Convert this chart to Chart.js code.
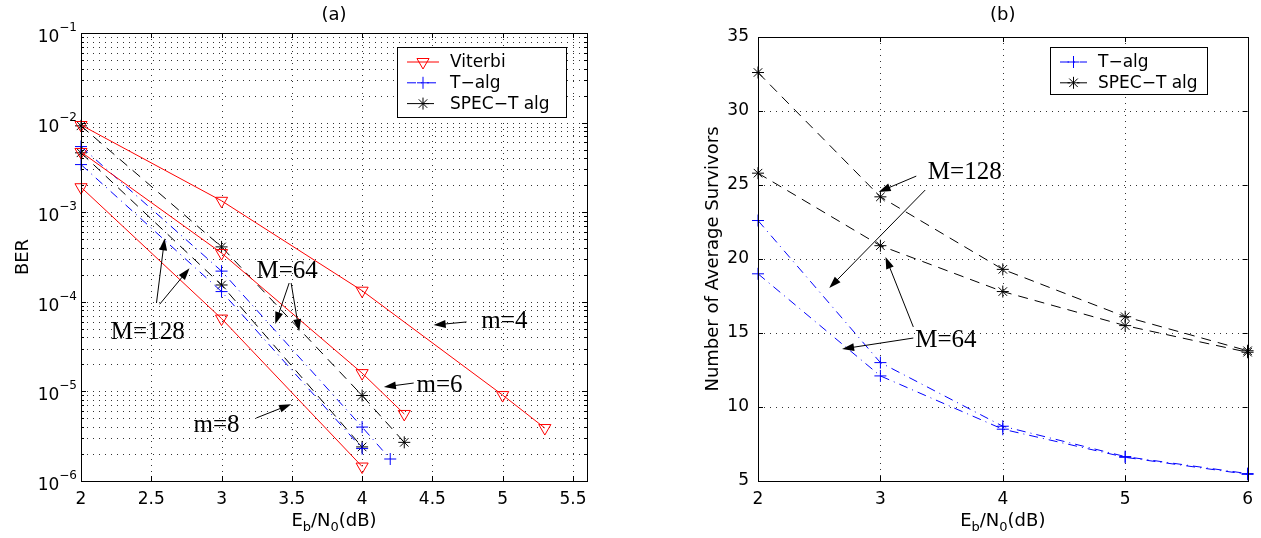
<!DOCTYPE html>
<html>
<head>
<meta charset="UTF-8">
<title>BER and average survivors</title>
<script src="https://cdn.jsdelivr.net/npm/chart.js"></script>
<style>
  body { margin: 0; background: #fff; }
  #wrapA { position: absolute; left: 0; top: 0; width: 630px; height: 538px; }
  #wrapB { position: absolute; left: 640px; top: 0; width: 621px; height: 538px; }
</style>
</head>
<body>
<div id="wrapA"><canvas id="chartA"></canvas></div>
<div id="wrapB"><canvas id="chartB"></canvas></div>
<script>
// ---- (a) BER vs Eb/N0 ----
const xTicksA = [2, 2.5, 3, 3.5, 4, 4.5, 5, 5.5];
const yExpA = [-1, -2, -3, -4, -5, -6];

const vit4X = [2, 3, 4, 5, 5.3];
const vit4Y = [9.4e-3, 1.34e-3, 1.33e-4, 9.1e-6, 3.9e-6];
const vit6X = [2, 3, 4, 4.3];
const vit6Y = [4.7e-3, 3.5e-4, 1.6e-5, 5.6e-6];
const vit8X = [2, 3, 4];
const vit8Y = [1.9e-3, 6.5e-5, 1.45e-6];

const talg64X = [2, 3, 4, 4.2];
const talg64Y = [5.4e-3, 2.2e-4, 4.0e-6, 1.76e-6];
const talg128X = [2, 3, 4];
const talg128Y = [3.4e-3, 1.3e-4, 2.3e-6];

const spec64X = [2, 3, 4, 4.3];
const spec64Y = [9.2e-3, 4.1e-4, 9.0e-6, 2.7e-6];
const spec128X = [2, 3, 4];
const spec128Y = [4.6e-3, 1.54e-4, 2.4e-6];

// ---- (b) average survivors ----
const ebnoB = [2, 3, 4, 5, 6];
const yTicksB = [5, 10, 15, 20, 25, 30, 35];
const survSpec128 = [32.6, 24.2, 19.3, 16.1, 13.8];
const survSpec64 = [25.8, 20.9, 17.8, 15.5, 13.7];
const survT128 = [22.6, 13.0, 8.7, 6.65, 5.5];
const survT64 = [19.0, 12.1, 8.5, 6.6, 5.45];

const SANS = '"DejaVu Sans", "Liberation Sans", sans-serif';
const SERIF = '"Liberation Serif", "Times New Roman", serif';
const RED = '#ff0000', BLUE = '#0000ff', BLACK = '#000000';
const DASH_DOT = [9, 5, 1, 5], DASHED = [10, 7];

Chart.defaults.font.family = SANS;
Chart.defaults.color = '#000';

function pts(xs, ys) { return xs.map((x, i) => ({ x: x, y: ys[i] })); }

function series(data, kind) {
  const s = {
    data: data, showLine: true, clip: false, borderWidth: 1, pointBorderWidth: 1,
    pointBackgroundColor: 'rgba(0,0,0,0)'
  };
  if (kind === 'vit') Object.assign(s, { borderColor: RED, pointBorderColor: RED, pointStyle: 'triangle', pointRotation: 180, pointRadius: 7 });
  if (kind === 't') Object.assign(s, { borderColor: BLUE, pointBorderColor: BLUE, pointStyle: 'cross', pointRadius: 6, borderDash: DASH_DOT });
  if (kind === 'spec') Object.assign(s, { borderColor: BLACK, pointBorderColor: BLACK, pointStyle: 'star', pointRadius: 6, borderDash: DASHED });
  return s;
}

function line(ctx, x1, y1, x2, y2) {
  ctx.beginPath(); ctx.moveTo(x1, y1); ctx.lineTo(x2, y2); ctx.stroke();
}

function arrow(ctx, x1, y1, x2, y2) {
  const a = Math.atan2(y2 - y1, x2 - x1), L = 12, W = 4;
  const c = Math.cos(a), s = Math.sin(a);
  line(ctx, x1, y1, x2 - L * c * 0.7, y2 - L * s * 0.7);
  ctx.beginPath();
  ctx.moveTo(x2, y2);
  ctx.lineTo(x2 - L * c + W * s, y2 - L * s - W * c);
  ctx.lineTo(x2 - L * c - W * s, y2 - L * s + W * c);
  ctx.closePath(); ctx.fill();
}

function drawEbN0(ctx, cx, y) {
  const big = '18px ' + SANS, small = '13px ' + SANS;
  const parts = [['E', big, 0], ['b', small, 5], ['/N', big, 0], ['0', small, 5], ['(dB)', big, 0]];
  let w = 0;
  parts.forEach(p => { ctx.font = p[1]; w += ctx.measureText(p[0]).width; });
  let x = cx - w / 2;
  ctx.textAlign = 'left'; ctx.textBaseline = 'alphabetic';
  parts.forEach(p => { ctx.font = p[1]; ctx.fillText(p[0], x, y + p[2]); x += ctx.measureText(p[0]).width; });
}

// axes box, dotted grid, inward ticks, titles, legend and notes, MATLAB style
function makeFrame(cfg) {
  return {
    id: 'frame',
    beforeDatasetsDraw(chart) {
      const { ctx, chartArea: a, scales } = chart;
      ctx.save();
      ctx.strokeStyle = '#333'; ctx.lineWidth = 1; ctx.setLineDash([1, 5]);
      cfg.gridX.forEach(v => { const x = Math.round(scales.x.getPixelForValue(v)) + 0.5; line(ctx, x, a.top, x, a.bottom); });
      cfg.gridY.forEach(v => { const y = Math.round(scales.y.getPixelForValue(v)) + 0.5; line(ctx, a.left, y, a.right, y); });
      ctx.restore();
    },
    afterDraw(chart) {
      const { ctx, chartArea: a, scales } = chart;
      const sx = scales.x, sy = scales.y;
      ctx.save();
      ctx.setLineDash([]); ctx.strokeStyle = '#000'; ctx.fillStyle = '#000'; ctx.lineWidth = 1;
      cfg.gridX.forEach(v => {
        const x = Math.round(sx.getPixelForValue(v)) + 0.5;
        line(ctx, x, a.bottom, x, a.bottom - 5); line(ctx, x, a.top, x, a.top + 5);
      });
      cfg.tickY.forEach(t => {
        const y = Math.round(sy.getPixelForValue(t.v)) + 0.5;
        line(ctx, a.left, y, a.left + t.len, y); line(ctx, a.right, y, a.right - t.len, y);
      });
      ctx.strokeRect(Math.round(a.left) + 0.5, Math.round(a.top) + 0.5, Math.round(a.right - a.left), Math.round(a.bottom - a.top));

      // log labels 10^n
      if (cfg.expLabels) {
        cfg.expLabels.forEach(e => {
          const y = sy.getPixelForValue(Math.pow(10, e));
          const ex = '\u2212' + Math.abs(e);
          ctx.font = '12px ' + SANS; const w2 = ctx.measureText(ex).width;
          ctx.font = '17px ' + SANS; const w1 = ctx.measureText('10').width;
          const right = a.left - 4;
          ctx.textAlign = 'left'; ctx.textBaseline = 'alphabetic';
          ctx.fillText('10', right - w2 - w1, y + 9);
          ctx.font = '12px ' + SANS;
          ctx.fillText(ex, right - w2, y - 2);
        });
      }

      const cx = (a.left + a.right) / 2, cy = (a.top + a.bottom) / 2;
      ctx.font = '18px ' + SANS; ctx.textAlign = 'center'; ctx.textBaseline = 'middle';
      ctx.fillText(cfg.title, cx, 15);
      drawEbN0(ctx, cx, 526);
      ctx.save();
      ctx.translate(cfg.yTitleX, cy); ctx.rotate(-Math.PI / 2);
      ctx.font = '18px ' + SANS; ctx.textAlign = 'center'; ctx.textBaseline = 'middle';
      ctx.fillText(cfg.yTitle, 0, 0);
      ctx.restore();

      // legend
      const L = cfg.legend;
      ctx.fillStyle = '#fff'; ctx.fillRect(L.x, L.y, L.w, L.h);
      ctx.strokeStyle = '#000'; ctx.strokeRect(L.x + 0.5, L.y + 0.5, L.w, L.h);
      L.items.forEach((it, i) => {
        const y = L.y + 15 + i * 20.8;
        ctx.strokeStyle = it.color; ctx.setLineDash(it.dash);
        line(ctx, L.x + 10, y, L.x + L.sample, y);
        ctx.setLineDash([]);
        ctx.fillStyle = 'rgba(0,0,0,0)';
        Chart.helpers.drawPoint(ctx, { pointStyle: it.point, rotation: it.rot || 0, radius: it.r, borderWidth: 1 }, L.x + 10 + (L.sample - 10) / 2, y);
        ctx.fillStyle = '#000'; ctx.font = '17px ' + SANS; ctx.textAlign = 'left'; ctx.textBaseline = 'middle';
        ctx.fillText(it.label, L.x + L.sample + 11, y + 1);
      });

      // text notes with arrows (data coordinates)
      ctx.strokeStyle = '#000'; ctx.fillStyle = '#000'; ctx.setLineDash([]);
      cfg.notes.forEach(n => {
        ctx.font = '25px ' + SERIF; ctx.textAlign = 'center'; ctx.textBaseline = 'middle';
        ctx.fillText(n.text, sx.getPixelForValue(n.at[0]), sy.getPixelForValue(n.at[1]));
        n.arrows.forEach(ar => arrow(ctx,
          sx.getPixelForValue(ar[0]), sy.getPixelForValue(ar[1]),
          sx.getPixelForValue(ar[2]), sy.getPixelForValue(ar[3])));
      });
      ctx.restore();
    }
  };
}

// ---------- chart (a) ----------
const gridYA = [], tickYA = [];
for (let e = -6; e <= -2; e++) {
  for (let k = 1; k <= 9; k++) {
    const v = k * Math.pow(10, e);
    gridYA.push(v); tickYA.push({ v: v, len: k === 1 ? 5 : 3 });
  }
}
tickYA.push({ v: 1e-1, len: 5 });

new Chart(document.getElementById('chartA'), {
  type: 'scatter',
  data: {
    datasets: [
      series(pts(vit4X, vit4Y), 'vit'),
      series(pts(vit6X, vit6Y), 'vit'),
      series(pts(vit8X, vit8Y), 'vit'),
      series(pts(talg64X, talg64Y), 't'),
      series(pts(talg128X, talg128Y), 't'),
      series(pts(spec64X, spec64Y), 'spec'),
      series(pts(spec128X, spec128Y), 'spec')
    ]
  },
  options: {
    responsive: true, maintainAspectRatio: false, animation: false,
    layout: { padding: { left: 0, right: 43, top: 33, bottom: 0 } },
    plugins: { legend: { display: false }, tooltip: { enabled: false } },
    scales: {
      x: {
        type: 'linear', min: 2, max: 5.6,
        afterBuildTicks: s => { s.ticks = xTicksA.map(v => ({ value: v })); },
        afterFit: s => { s.height = 57; },
        grid: { display: false, drawTicks: false }, border: { display: false },
        ticks: { padding: 8, autoSkip: false, maxRotation: 0, font: { size: 17 }, callback: v => String(v) }
      },
      y: {
        type: 'logarithmic', min: 1e-6, max: 1e-1,
        afterFit: s => { s.width = 81; },
        grid: { display: false, drawTicks: false }, border: { display: false },
        ticks: { display: false }
      }
    }
  },
  plugins: [makeFrame({
    title: '(a)', yTitle: 'BER', yTitleX: 23,
    gridX: xTicksA, gridY: gridYA, tickY: tickYA, expLabels: yExpA,
    legend: {
      x: 397, y: 47, w: 169, h: 70, sample: 42,
      items: [
        { label: 'Viterbi', color: RED, dash: [], point: 'triangle', rot: 180, r: 7 },
        { label: 'T\u2212alg', color: BLUE, dash: DASH_DOT, point: 'cross', r: 6 },
        { label: 'SPEC\u2212T alg', color: BLACK, dash: DASHED, point: 'star', r: 6 }
      ]
    },
    notes: [
      { text: 'M=128', at: [2.475, 4.6e-5], arrows: [[2.537, 9.7e-5, 2.595, 5.1e-4], [2.56, 9.4e-5, 2.772, 2.37e-4]] },
      { text: 'M=64', at: [3.467, 2.2e-4], arrows: [[3.481, 1.62e-4, 3.382, 5.65e-5], [3.495, 1.62e-4, 3.552, 4.7e-5]] },
      { text: 'm=4', at: [5.012, 6.1e-5], arrows: [[4.743, 5.96e-5, 4.509, 5.5e-5]] },
      { text: 'm=6', at: [4.551, 1.18e-5], arrows: [[4.367, 1.24e-5, 4.155, 1.12e-5]] },
      { text: 'm=8', at: [2.964, 4.2e-6], arrows: [[3.247, 5.05e-6, 3.495, 7.2e-6]] }
    ]
  })]
});

// ---------- chart (b) ----------
new Chart(document.getElementById('chartB'), {
  type: 'scatter',
  data: {
    datasets: [
      series(pts(ebnoB, survT128), 't'),
      series(pts(ebnoB, survT64), 't'),
      series(pts(ebnoB, survSpec128), 'spec'),
      series(pts(ebnoB, survSpec64), 'spec')
    ]
  },
  options: {
    responsive: true, maintainAspectRatio: false, animation: false,
    layout: { padding: { left: 0, right: 8, top: 37, bottom: 0 } },
    plugins: { legend: { display: false }, tooltip: { enabled: false } },
    scales: {
      x: {
        type: 'linear', min: 2, max: 6,
        afterBuildTicks: s => { s.ticks = ebnoB.map(v => ({ value: v })); },
        afterFit: s => { s.height = 57; },
        grid: { display: false, drawTicks: false }, border: { display: false },
        ticks: { padding: 8, autoSkip: false, maxRotation: 0, font: { size: 17 } }
      },
      y: {
        type: 'linear', min: 5, max: 35,
        afterBuildTicks: s => { s.ticks = yTicksB.map(v => ({ value: v })); },
        afterFit: s => { s.width = 118; },
        grid: { display: false, drawTicks: false }, border: { display: false },
        ticks: { padding: 9, font: { size: 17 } }
      }
    }
  },
  plugins: [makeFrame({
    title: '(b)', yTitle: 'Number of Average Survivors', yTitleX: 73,
    gridX: ebnoB, gridY: yTicksB, tickY: yTicksB.map(v => ({ v: v, len: 5 })),
    legend: {
      x: 410, y: 47, w: 157, h: 47, sample: 37,
      items: [
        { label: 'T\u2212alg', color: BLUE, dash: DASH_DOT, point: 'cross', r: 6 },
        { label: 'SPEC\u2212T alg', color: BLACK, dash: DASHED, point: 'star', r: 6 }
      ]
    },
    notes: [
      { text: 'M=128', at: [3.689, 25.88], arrows: [[3.293, 25.6, 2.986, 24.53], [3.366, 24.66, 2.582, 18.04]] },
      { text: 'M=64', at: [3.535, 14.53], arrows: [[3.269, 14.66, 2.687, 13.92], [3.269, 15.41, 3.042, 20.14]] }
    ]
  })]
});
</script>
</body>
</html>
